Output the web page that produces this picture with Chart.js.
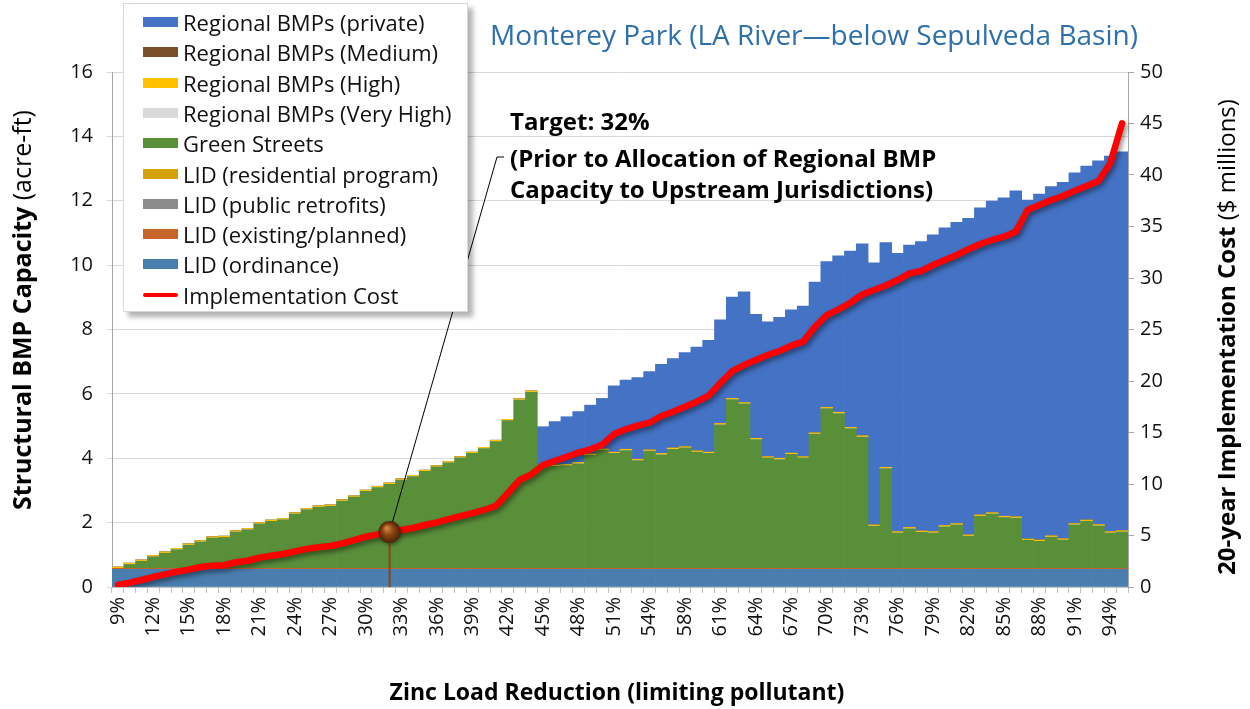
<!DOCTYPE html>
<html>
<head>
<meta charset="utf-8">
<script src="https://cdn.jsdelivr.net/npm/chart.js@4.4.1/dist/chart.umd.min.js"></script>
<style>
  body { margin: 0; background: #fff; font-family: "Open Sans", sans-serif; }
  #wrap { position: relative; width: 1250px; height: 709px; }
  #legend {
    position: absolute; left: 123px; top: 3px; width: 345px; height: 309px;
    background: #fff; border: 1px solid #d9d9d9; box-sizing: border-box;
    box-shadow: 5px 5px 5px rgba(0,0,0,0.3);
  }
  .row { position: absolute; left: 19px; height: 30px; display: flex; align-items: center; font-size: 22px; color: #111; white-space: nowrap; }
  .sw { width: 35px; height: 10px; margin-right: 5px; flex: none; }
  .sw.ln { height: 4px; border-radius: 2px; }
</style>
</head>
<body>
<div id="wrap">
  <canvas id="bmpChart" width="1250" height="709"></canvas>
  <div id="legend"></div>
</div>
<script>
// load reduction steps (x axis)
const categories = [
  '9%','10%','11%','12%','13%','14%','15%','16%','17%','18%',
  '19%','20%','21%','22%','23%','24%','25%','26%','27%','28%',
  '29%','30%','31%','32%','33%','34%','35%','36%','37%','38%',
  '39%','40%','41%','42%','43%','44%','45%','46%','47%','48%',
  '49%','50%','51%','52%','53%','54%','55%','57%','58%','59%',
  '60%','61%','62%','63%','64%','65%','66%','67%','68%','69%',
  '70%','71%','72%','73%','74%','75%','76%','77%','78%','79%',
  '80%','81%','82%','83%','84%','85%','86%','87%','88%','89%',
  '90%','91%','92%','93%','94%','95%'
]
const labelEvery = 3
const targetLabel = '32%'

// capacity by BMP type, acre-ft
const lidOrdinance = [
  0.55,0.55,0.55,0.55,0.55,0.55,0.55,0.55,0.55,0.55,
  0.55,0.55,0.55,0.55,0.55,0.55,0.55,0.55,0.55,0.55,
  0.55,0.55,0.55,0.55,0.55,0.55,0.55,0.55,0.55,0.55,
  0.55,0.55,0.55,0.55,0.55,0.55,0.55,0.55,0.55,0.55,
  0.55,0.55,0.55,0.55,0.55,0.55,0.55,0.55,0.55,0.55,
  0.55,0.55,0.55,0.55,0.55,0.55,0.55,0.55,0.55,0.55,
  0.55,0.55,0.55,0.55,0.55,0.55,0.55,0.55,0.55,0.55,
  0.55,0.55,0.55,0.55,0.55,0.55,0.55,0.55,0.55,0.55,
  0.55,0.55,0.55,0.55,0.55,0.55
]
const lidExisting = [
  0.03,0.03,0.03,0.03,0.03,0.03,0.03,0.03,0.03,0.03,
  0.03,0.03,0.03,0.03,0.03,0.03,0.03,0.03,0.03,0.03,
  0.03,0.03,0.03,0.03,0.03,0.03,0.03,0.03,0.03,0.03,
  0.03,0.03,0.03,0.03,0.03,0.03,0.03,0.03,0.03,0.03,
  0.03,0.03,0.03,0.03,0.03,0.03,0.03,0.03,0.03,0.03,
  0.03,0.03,0.03,0.03,0.03,0.03,0.03,0.03,0.03,0.03,
  0.03,0.03,0.03,0.03,0.03,0.03,0.03,0.03,0.03,0.03,
  0.03,0.03,0.03,0.03,0.03,0.03,0.03,0.03,0.03,0.03,
  0.03,0.03,0.03,0.03,0.03,0.03
]
const lidPublic = [
  0,0,0,0,0,0,0,0,0,0, 0,0,0,0,0,0,0,0,0,0, 0,0,0,0,0,0,0,0,0,0,
  0,0,0,0,0,0,0,0,0,0, 0,0,0,0,0,0,0,0,0,0, 0,0,0,0,0,0,0,0,0,0,
  0,0,0,0,0,0,0,0,0,0, 0,0,0,0,0,0,0,0,0,0, 0,0,0,0,0,0
]
const lidResidential = [
  0,0,0,0,0,0,0,0,0,0, 0,0,0,0,0,0,0,0,0,0, 0,0,0,0,0,0,0,0,0,0,
  0,0,0,0,0,0,0,0,0,0, 0,0,0,0,0,0,0,0,0,0, 0,0,0,0,0,0,0,0,0,0,
  0,0,0,0,0,0,0,0,0,0, 0,0,0,0,0,0,0,0,0,0, 0,0,0,0,0,0
]
const greenStreets = [
  0,0.12,0.22,0.36,0.47,0.58,0.72,0.82,0.94,0.96,
  1.13,1.20,1.38,1.46,1.51,1.69,1.82,1.90,1.93,2.09,
  2.21,2.39,2.51,2.61,2.74,2.85,3.01,3.15,3.28,3.43,
  3.57,3.72,3.94,4.59,5.23,5.47,3.15,3.17,3.19,3.25,
  3.51,3.67,3.57,3.66,3.35,3.64,3.53,3.70,3.74,3.61,
  3.57,4.46,5.24,5.11,4.00,3.43,3.38,3.54,3.43,4.17,
  4.96,4.81,4.34,4.08,1.31,3.10,1.10,1.23,1.12,1.10,
  1.29,1.35,1.00,1.62,1.69,1.58,1.56,0.87,0.84,0.97,
  0.88,1.35,1.46,1.32,1.10,1.13
]
const regionalVeryHigh = [
  0,0,0,0,0,0,0,0,0,0, 0,0,0,0,0,0,0,0,0,0, 0,0,0,0,0,0,0,0,0,0,
  0,0,0,0,0,0,0,0,0,0, 0,0,0,0,0,0,0,0,0,0, 0,0,0,0,0,0,0,0,0,0,
  0,0,0,0,0,0,0,0,0,0, 0,0,0,0,0,0,0,0,0,0, 0,0,0,0,0,0
]
const regionalHigh = [
  0.04,0.04,0.04,0.04,0.04,0.04,0.04,0.04,0.04,0.04,
  0.04,0.04,0.04,0.04,0.04,0.04,0.04,0.04,0.04,0.04,
  0.04,0.04,0.04,0.04,0.04,0.04,0.04,0.04,0.04,0.04,
  0.04,0.04,0.04,0.04,0.04,0.04,0.04,0.04,0.04,0.04,
  0.04,0.04,0.04,0.04,0.04,0.04,0.04,0.04,0.04,0.04,
  0.04,0.04,0.04,0.04,0.04,0.04,0.04,0.04,0.04,0.04,
  0.04,0.04,0.04,0.04,0.04,0.04,0.04,0.04,0.04,0.04,
  0.04,0.04,0.04,0.04,0.04,0.04,0.04,0.04,0.04,0.04,
  0.04,0.04,0.04,0.04,0.04,0.04
]
const regionalMedium = [
  0,0,0,0,0,0,0,0,0,0, 0,0,0,0,0,0,0,0,0,0, 0,0,0,0,0,0,0,0,0,0,
  0,0,0,0,0,0,0,0,0,0, 0,0,0,0,0,0,0,0,0,0, 0,0,0,0,0,0,0,0,0,0,
  0,0,0,0,0,0,0,0,0,0, 0,0,0,0,0,0,0,0,0,0, 0,0,0,0,0,0
]
const regionalPrivate = [
  0,0,0,0,0,0,0,0,0,0,
  0,0,0,0,0,0,0,0,0,0,
  0,0,0,0,0,0,0,0,0,0,
  0,0,0,0,0,0,1.21,1.35,1.48,1.58,
  1.52,1.57,2.06,2.15,2.54,2.43,2.77,2.78,2.92,3.22,
  3.47,3.22,3.15,3.44,3.85,4.19,4.38,4.45,4.68,4.68,
  4.53,4.86,5.48,5.96,8.14,6.98,8.65,8.77,8.99,9.22,
  9.25,9.36,9.83,9.54,9.68,9.89,10.13,10.53,10.75,10.85,
  11.07,10.90,11.00,11.30,11.67,11.77
]

// 20-year cost, $ millions
const implementationCost = [
  0.19,0.42,0.68,0.98,1.23,1.49,1.68,1.94,2.07,2.12,
  2.40,2.55,2.85,3.04,3.20,3.46,3.70,3.85,3.98,4.24,
  4.56,4.88,5.11,5.34,5.53,5.73,6.02,6.28,6.58,6.89,
  7.18,7.48,7.89,9.10,10.39,10.94,11.84,12.26,12.65,13.04,
  13.37,13.82,14.85,15.31,15.66,15.95,16.60,17.02,17.50,17.99,
  18.58,19.80,20.95,21.55,22.04,22.52,22.91,23.43,23.82,25.27,
  26.40,26.95,27.60,28.40,28.83,29.28,29.80,30.45,30.68,31.26,
  31.75,32.23,32.79,33.30,33.69,34.01,34.50,36.60,37.09,37.57,
  37.96,38.48,38.93,39.42,41.14,45.02
]

const FONT = '"Open Sans", sans-serif'

// stacked bottom -> top
const barSeries = [
  { label: 'LID (ordinance)', data: lidOrdinance, color: '#4a7eaf' },
  { label: 'LID (existing/planned)', data: lidExisting, color: '#c5652a' },
  { label: 'LID (public retrofits)', data: lidPublic, color: '#8c8c8c' },
  { label: 'LID (residential program)', data: lidResidential, color: '#d4a20c' },
  { label: 'Green Streets', data: greenStreets, color: '#5a8f3a' },
  { label: 'Regional BMPs (Very High)', data: regionalVeryHigh, color: '#d9d9d9' },
  { label: 'Regional BMPs (High)', data: regionalHigh, color: '#ffc000' },
  { label: 'Regional BMPs (Medium)', data: regionalMedium, color: '#7b4f2a' },
  { label: 'Regional BMPs (private)', data: regionalPrivate, color: '#4472c4' }
]

const datasets = barSeries.map(s => ({
  type: 'bar',
  label: s.label,
  data: s.data,
  backgroundColor: s.color,
  borderWidth: 0,
  barPercentage: 1,
  categoryPercentage: 1,
  yAxisID: 'y',
  stack: 'bmp',
  order: 1
}))
datasets.push({
  type: 'line',
  label: 'Implementation Cost',
  data: implementationCost,
  borderColor: '#ff0000',
  borderWidth: 6.5,
  borderJoinStyle: 'round',
  borderCapStyle: 'round',
  pointRadius: 0,
  tension: 0,
  yAxisID: 'y2',
  stack: 'cost',
  order: 0
})

// legend box, top of stack first
const legendEl = document.getElementById('legend')
const legendItems = barSeries.slice().reverse().map(s => ({ label: s.label, color: s.color, line: false }))
legendItems.push({ label: 'Implementation Cost', color: '#ff0000', line: true })
legendItems.forEach((it, i) => {
  const row = document.createElement('div')
  row.className = 'row'
  row.style.top = (3 + i * 30.3) + 'px'
  row.innerHTML = '<span class="sw' + (it.line ? ' ln' : '') + '" style="background:' + it.color + '"></span>' + it.label
  legendEl.appendChild(row)
})

// soft shadow under the cost line
const lineShadow = {
  id: 'lineShadow',
  beforeDatasetDraw(chart, args) {
    if (chart.data.datasets[args.index].type !== 'line') return
    const ctx = chart.ctx
    ctx.save()
    ctx.shadowColor = 'rgba(0,0,0,0.45)'
    ctx.shadowBlur = 5
    ctx.shadowOffsetX = 2
    ctx.shadowOffsetY = 3
  },
  afterDatasetDraw(chart, args) {
    if (chart.data.datasets[args.index].type !== 'line') return
    chart.ctx.restore()
  }
}

function drawMixed(ctx, parts, x, y, size) {
  // parts: [[text, weight]], centred on x
  let total = 0
  parts.forEach(p => { ctx.font = p[1] + ' ' + size + 'px ' + FONT; total += ctx.measureText(p[0]).width })
  let cx = x - total / 2
  ctx.textAlign = 'left'
  parts.forEach(p => {
    ctx.font = p[1] + ' ' + size + 'px ' + FONT
    ctx.fillText(p[0], cx, y)
    cx += ctx.measureText(p[0]).width
  })
}

const decorations = {
  id: 'decorations',
  afterDatasetsDraw(chart) {
    const ctx = chart.ctx
    const xs = chart.scales.x, ys = chart.scales.y2
    const ti = categories.indexOf(targetLabel)
    const px = xs.getPixelForValue(ti)
    const py = ys.getPixelForValue(implementationCost[ti])

    ctx.save()
    // drop line to the axis
    ctx.strokeStyle = '#8b4513'
    ctx.lineWidth = 2
    ctx.beginPath()
    ctx.moveTo(px, py)
    ctx.lineTo(px, chart.chartArea.bottom)
    ctx.stroke()

    // leader to the note
    ctx.strokeStyle = '#000'
    ctx.lineWidth = 1
    ctx.beginPath()
    ctx.moveTo(px, py)
    ctx.lineTo(497, 157)
    ctx.lineTo(504, 157)
    ctx.stroke()

    // marker ball
    ctx.shadowColor = 'rgba(0,0,0,0.4)'
    ctx.shadowBlur = 4
    ctx.shadowOffsetX = 1
    ctx.shadowOffsetY = 2
    const g = ctx.createRadialGradient(px - 3, py - 4, 1, px, py, 11)
    g.addColorStop(0, '#cf8240')
    g.addColorStop(0.45, '#8c4512')
    g.addColorStop(1, '#4a2206')
    ctx.fillStyle = g
    ctx.beginPath()
    ctx.arc(px, py, 11, 0, Math.PI * 2)
    ctx.fill()
    ctx.restore()
  },
  afterDraw(chart) {
    const ctx = chart.ctx
    ctx.save()
    ctx.textBaseline = 'middle'

    // title
    ctx.fillStyle = '#2e6fac'
    ctx.font = '28px ' + FONT
    ctx.textAlign = 'left'
    ctx.fillText('Monterey Park (LA River\u2014below Sepulveda Basin)', 490, 37)

    // note
    ctx.fillStyle = '#000'
    ctx.font = 'bold 24px ' + FONT
    ctx.fillText('Target: 32%', 510, 123)
    ctx.fillText('(Prior to Allocation of Regional BMP', 510, 160)
    ctx.fillText('Capacity to Upstream Jurisdictions)', 510, 191)

    // x title
    ctx.textAlign = 'center'
    ctx.font = 'bold 23px ' + FONT
    ctx.fillText('Zinc Load Reduction (limiting pollutant)', 617, 693)

    // left title
    ctx.save()
    ctx.translate(24, 310)
    ctx.rotate(-Math.PI / 2)
    drawMixed(ctx, [['Structural BMP Capacity', 'bold'], [' (acre-ft)', 'normal']], 0, 0, 25)
    ctx.restore()

    // right title
    ctx.save()
    ctx.translate(1228, 337)
    ctx.rotate(-Math.PI / 2)
    drawMixed(ctx, [['20-year Implementation Cost', 'bold'], [' ($ millions)', 'normal']], 0, 0, 24)
    ctx.restore()

    ctx.restore()
  }
}

new Chart(document.getElementById('bmpChart'), {
  data: { labels: categories, datasets: datasets },
  options: {
    responsive: false,
    animation: false,
    devicePixelRatio: 1,
    layout: { padding: { top: 72, left: 0, right: 0, bottom: 0 } },
    plugins: { legend: { display: false }, tooltip: { enabled: false } },
    scales: {
      x: {
        stacked: true,
        offset: true,
        afterFit(scale) { scale.height = 122 },
        grid: { display: true, offset: true, drawOnChartArea: false, drawTicks: true, tickLength: 6, color: '#bfbfbf' },
        border: { color: '#bfbfbf' },
        ticks: {
          autoSkip: false,
          minRotation: 90,
          maxRotation: 90,
          padding: 4,
          color: '#111',
          font: { family: FONT, size: 20 },
          callback: (v, i) => (i % labelEvery === 0 ? categories[i] : '')
        }
      },
      y: {
        stacked: true,
        position: 'left',
        min: 0,
        max: 16,
        afterFit(scale) { scale.width = 112 },
        grid: { color: '#d9d9d9', tickLength: 5 },
        border: { color: '#a6a6a6' },
        ticks: { stepSize: 2, padding: 14, color: '#111', font: { family: FONT, size: 20 } }
      },
      y2: {
        position: 'right',
        min: 0,
        max: 50,
        afterFit(scale) { scale.width = 122 },
        grid: { drawOnChartArea: false, color: '#a6a6a6', tickLength: 6 },
        border: { color: '#a6a6a6' },
        ticks: { stepSize: 5, padding: 6, color: '#111', font: { family: FONT, size: 20 } }
      }
    }
  },
  plugins: [lineShadow, decorations]
})
</script>
</body>
</html>
